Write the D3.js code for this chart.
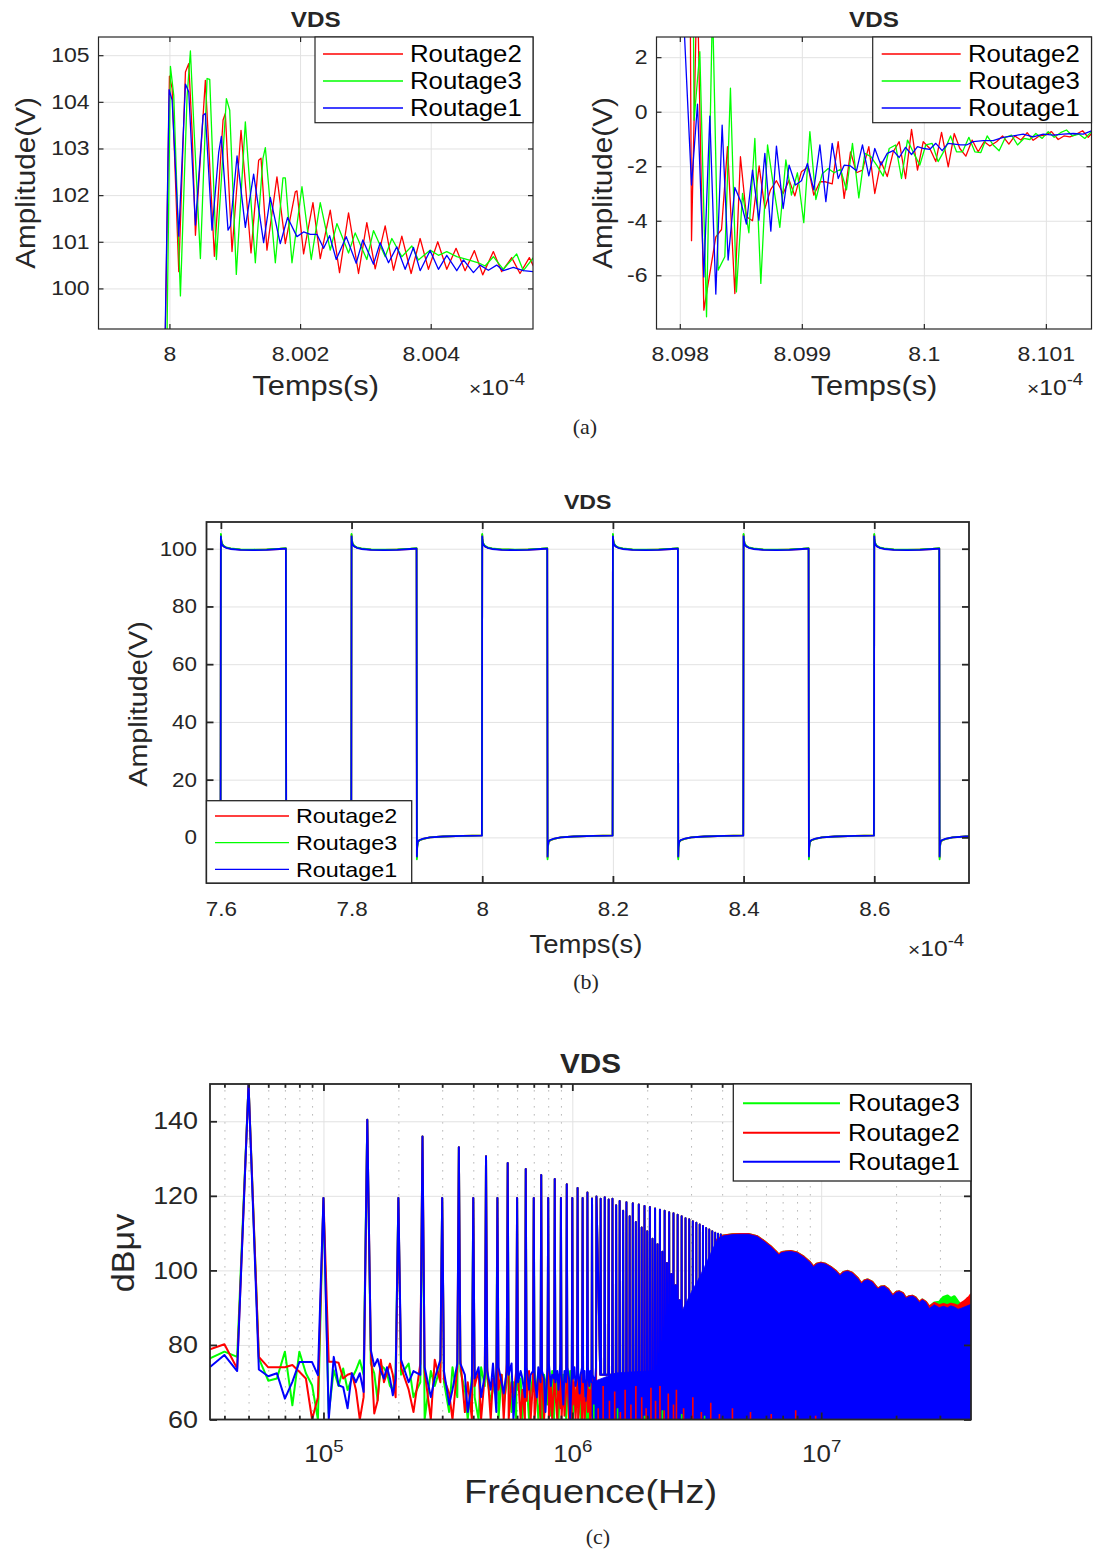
<!DOCTYPE html>
<html><head><meta charset="utf-8">
<script src="https://cdn.jsdelivr.net/npm/d3@7/dist/d3.min.js"></script>
<style>
html,body{margin:0;padding:0;background:#fff;}
svg{display:block;}
</style></head><body>
<svg id="fig" width="1097" height="1553" xmlns="http://www.w3.org/2000/svg"></svg>
<script>
// ======================= DATA =======================
const seriesOrderA = ["Routage2","Routage3","Routage1"];
const seriesOrderC = ["Routage3","Routage2","Routage1"];

// (a) left : time offset from 8e-4 s in ns, amplitude in V
const a1TickNs = [0, 200, 400];
const a1TickLabels = ["8", "8.002", "8.004"];
const a1YTicks = [100, 101, 102, 103, 104, 105];
const a1Red = [[-8,97.5],[0,104.55],[4.1,104.29],[14.3,100.36],[24.5,104.64],[29.6,104.82],[34.7,103.36],[39.8,101.14],[55.0,104.46],[68.8,100.69],[82.1,103.61],[85.6,103.75],[95.8,100.79],[109.6,103.39],[124.9,100.76],[136.6,102.75],[140.2,102.79],[149.3,100.82],[164.6,102.39],[177.4,100.96],[192.7,102.07],[195.2,102.09],[205.4,100.74],[219.7,101.84],[230.9,100.64],[246.2,101.68],[260.4,100.34],[274.2,101.62],[289.5,100.32],[302.2,101.41],[315.0,100.42],[330.3,101.34],[343.0,100.39],[355.8,101.12],[370.0,100.32],[383.8,101.07],[396.5,100.41],[410.8,101.0],[424.6,100.41],[438.8,100.86],[452.6,100.38],[466.9,100.81],[479.6,100.29],[495.9,100.79],[508.7,100.36],[524.0,100.66],[536.7,100.32],[551.0,100.66],[557.1,100.48]];
const a1Green = [[-5,97.5],[1.5,104.76],[6.6,104.14],[16.8,99.84],[27.0,104.11],[32.1,105.09],[37.2,103.54],[47.4,100.64],[57.6,104.5],[61.7,104.48],[71.9,100.62],[87.2,104.07],[92.3,103.82],[102.4,100.3],[116.2,103.57],[131.5,100.55],[143.2,102.79],[146.8,103.02],[162.1,100.55],[173.8,102.37],[177.4,102.37],[187.6,100.55],[202.9,102.18],[217.1,100.62],[230.9,101.84],[246.2,100.82],[256.4,101.39],[274.2,100.76],[284.4,101.19],[302.2,100.62],[312.4,101.24],[330.3,100.68],[340.5,101.07],[355.8,100.68],[371.1,100.91],[381.2,100.61],[399.1,100.82],[411.8,100.71],[424.6,100.79],[439.9,100.68],[455.2,100.62],[473.0,100.55],[483.2,100.48],[495.9,100.68],[511.2,100.41],[531.6,100.74],[541.8,100.38],[557.1,100.66]];
const a1Blue = [[-10,96],[-0.5,104.26],[4.1,104.04],[14.3,101.12],[24.5,104.38],[29.6,104.21],[39.8,101.36],[51.5,103.71],[55.0,103.75],[65.2,101.25],[75.4,102.91],[79.5,103.26],[89.7,101.25],[93.3,101.34],[103.5,102.84],[116.2,101.31],[128.9,102.45],[144.2,100.98],[154.4,101.95],[169.7,100.96],[180.9,101.52],[195.2,101.11],[205.4,101.21],[215.6,101.16],[225.8,101.16],[236.0,100.86],[245.2,101.13],[255.4,100.62],[270.6,101.11],[285.9,100.54],[296.1,101.04],[312.4,100.52],[322.6,100.98],[335.4,100.55],[348.1,100.89],[360.9,100.41],[373.6,100.88],[383.8,100.38],[399.1,100.81],[411.8,100.41],[424.6,100.71],[439.9,100.38],[450.1,100.61],[465.4,100.34],[475.5,100.5],[488.3,100.39],[501.0,100.5],[511.2,100.38],[526.5,100.45],[541.8,100.38],[557.1,100.36]];

// (a) right : time offset from 8.098e-4 s in ns
const a2TickNs = [0, 100, 200, 300];
const a2TickLabels = ["8.098", "8.099", "8.1", "8.101"];
const a2YTicks = [-6, -4, -2, 0, 2];
const a2Red = [[-3,100],[9.6,-4.73],[14.2,5],[19.7,-7.28],[29.5,-4.59],[34.2,-4.32],[39.1,-1.28],[45.1,-6.67],[49.7,-1.65],[54.6,-3.85],[59.6,-4.0],[65.0,-1.99],[69.7,-3.55],[74.3,-2.87],[79.2,-2.53],[84.7,-3.0],[89.6,-2.51],[94.3,-3.09],[99.7,-2.2],[105.2,-2.02],[109.8,-3.06],[114.8,-2.57],[119.4,-2.57],[124.9,-2.65],[129.8,-1.1],[134.7,-3.18],[139.9,-1.47],[144.8,-2.24],[149.7,-2.14],[154.9,-1.28],[159.8,-3.0],[164.8,-1.83],[170.0,-2.38],[174.9,-1.47],[179.8,-1.10],[185.0,-2.45],[189.9,-0.65],[194.8,-2.14],[199.5,-1.10],[204.9,-1.35],[209.8,-1.83],[214.5,-0.76],[220.0,-2.02],[224.9,-0.8],[229.5,-1.35],[234.4,-1.63],[239.6,-1.04],[244.5,-1.47],[249.5,-1.10],[254.1,-1.26],[259.6,-1.10],[264.5,-0.89],[269.7,-1.19],[274.6,-0.89],[279.5,-1.04],[284.7,-0.77],[289.6,-1.05],[294.5,-0.89],[299.7,-0.86],[304.6,-0.73],[310.1,-1.02],[314.8,-0.89],[319.7,-0.92],[325.1,-0.82],[330.1,-0.70],[334.7,-0.94],[337.4,-0.8]];
const a2Green = [[-3,100],[11.7,-0.31],[16.4,2.2],[21.9,-7.52],[26.8,4],[31.4,-5.81],[36.9,-5.32],[41.5,0.86],[46.4,-6.61],[51.4,-3.0],[56.6,-4.44],[61.5,-0.98],[66.4,-6.3],[71.9,-1.22],[77,-2.8],[82.0,-4.24],[86.9,-1.77],[91.5,-3.06],[96.4,-2.24],[101.6,-4.07],[106.6,-0.73],[111.5,-3.22],[116.7,-2.28],[121.6,-2.08],[126.5,-2.24],[131.7,-2.11],[136.6,-2.87],[141.5,-1.16],[146.7,-3.16],[151.6,-1.53],[156.6,-1.65],[161.7,-1.99],[166.7,-2.36],[171.6,-1.35],[176.8,-1.22],[181.7,-2.45],[186.6,-1.04],[191.8,-1.53],[196.7,-1.96],[201.6,-1.22],[206.8,-1.16],[211.7,-1.83],[216.7,-1.43],[221.9,-0.89],[226.8,-1.47],[231.7,-1.47],[236.9,-0.94],[241.8,-1.47],[246.7,-1.50],[251.9,-0.89],[256.8,-1.22],[261.7,-1.43],[266.9,-0.94],[271.9,-0.86],[276.8,-1.22],[282.0,-0.98],[286.9,-1.02],[291.8,-0.8],[297.0,-0.98],[301.9,-0.73],[306.8,-0.94],[312.0,-0.77],[316.9,-0.67],[321.9,-0.89],[327.0,-0.82],[331.9,-0.98],[337.4,-0.73]];
const a2Blue = [[-2,100],[0.5,6],[9.6,-2.69],[14.5,0.28],[19.7,-6.06],[24.6,-0.16],[29.5,-6.69],[34.7,-0.49],[39.6,-5.44],[45.1,-2.78],[50.0,-3.30],[54.6,-4.12],[59.6,-2.14],[64.8,-3.98],[69.7,-1.53],[74.6,-4.38],[79.2,-1.26],[84.7,-3.55],[89.6,-1.96],[94.8,-2.69],[99.7,-2.53],[104.6,-1.90],[109.8,-2.87],[114.8,-1.22],[119.7,-3.30],[124.9,-1.16],[129.8,-2.45],[134.7,-1.96],[139.9,-1.99],[144.8,-2.17],[149.7,-1.22],[154.9,-2.35],[159.8,-1.35],[164.8,-1.96],[170.0,-1.53],[174.9,-1.43],[179.8,-1.68],[185.0,-1.31],[189.9,-1.57],[194.8,-1.28],[200.0,-1.35],[204.9,-1.38],[209.8,-1.16],[215.0,-1.43],[219.9,-1.16],[224.9,-1.19],[230.1,-1.22],[235.0,-1.22],[240.4,-1.10],[248.6,-1.06],[256.8,-1.06],[265.0,-0.94],[273.2,-0.89],[281.4,-0.82],[289.6,-0.92],[297.8,-0.82],[306.0,-0.86],[314.2,-0.82],[322.4,-0.8],[330.6,-0.82],[337.4,-0.70]];

// (b) square wave (time in 1e-4 s)
const bTicks = [7.6, 7.8, 8.0, 8.2, 8.4, 8.6];
const bTickLabels = ["7.6", "7.8", "8", "8.2", "8.4", "8.6"];
const bYTicks = [0, 20, 40, 60, 80, 100];
const midStart = 7.578;
const midRise = [7.6, 7.8, 8.0, 8.2, 8.4, 8.6];
const midFall = [7.7, 7.9, 8.1, 8.3, 8.5, 8.7];
const midHighDt = [0, 0.0004, 0.0015, 0.004, 0.008, 0.015, 0.03, 0.05, 0.07, 0.09, 0.0995];
const midHighR2 = [104.8, 103.2, 101.8, 100.9, 100.4, 100.0, 99.7, 99.6, 99.7, 99.9, 100.1];
const midHighR3 = [105.1, 103.4, 101.9, 101.0, 100.5, 100.1, 99.8, 99.7, 99.8, 100.0, 100.2];
const midHighR1 = [104.3, 102.8, 101.5, 100.8, 100.3, 99.9, 99.6, 99.5, 99.6, 99.9, 100.0];
const midLowDt = [0, 0.0004, 0.0015, 0.004, 0.01, 0.02, 0.04, 0.07, 0.0995];
const midLowR2 = [-7.0, -3.5, -1.6, -1.0, -0.5, 0.0, 0.3, 0.5, 0.7];
const midLowR3 = [-7.6, -3.8, -1.7, -1.0, -0.5, 0.0, 0.3, 0.5, 0.7];
const midLowR1 = [-6.6, -3.2, -1.5, -0.9, -0.4, 0.0, 0.3, 0.5, 0.6];

// (c) spectrum
const cXTicks = [1e5, 1e6, 1e7];
const cXMinor = [4e4,5e4,6e4,7e4,8e4,9e4,2e5,3e5,4e5,5e5,6e5,7e5,8e5,9e5,2e6,3e6,4e6,5e6,6e6,7e6,8e6,9e6,2e7,3e7];
const cYTicks = [60, 80, 100, 120, 140];
const specLowKHz = [35,40,45,50,55,60,65,70,75,80,85,90,95,100,105,110,115,120,125,130,135,140,145,150,155,160,165,170,175,180,185,190,195,200];
const specLowR = [78.8,80.2,73.7,150,76.8,74,74,74,74.6,72.8,71,60,66,119.4,75.5,75.5,75.2,71,72,72.4,68,60,66,140.4,78.6,61.6,65,76,70,72.4,75,72,66,119.4];
const specLowG = [76.4,78.2,76.8,150,76.4,70.4,71,78.2,63.8,78.2,72.4,69.2,60,119.4,61.7,73.2,69,73.7,67.9,71,73.2,75.9,72,140.4,75,72.4,65.2,74.5,73.8,72.4,69,68,72.4,119.4];
const specLowB = [74.1,77.3,73,150,73.4,71.6,72.4,65.6,70.1,75.4,75.4,75.4,71.9,119.4,60,76.8,69.2,68.7,63,72.4,70,72.4,67.4,140.4,78.6,74.3,76.2,73,71,74,71,66.5,71,119.4];
// inter-harmonic noise, 4 readings per gap, harmonics 4..24 (x 50 kHz)
const specNoiseB = [76,70,73,72, 74,66,71,76, 73,64,68,75, 75,72,62,70, 71,74,66,72, 73,68,75,62, 74,70,67,73, 72,75,60,71, 70,73,71,66, 74,68,72,73, 71,66,74,70, 73,71,62,74, 75,69,72,71, 70,73,68,75, 72,64,73,70, 74,71,60,73, 71,74,69,72, 73,67,72,74, 70,73,65,71, 74,69,73,70, 72,71,68,74];
const specNoiseR = [74,68,62,75, 73,60,76,70, 71,67,60,74, 76,62,70,60, 69,73,60,72, 74,60,71,67, 68,72,60,75, 60,70,66,73, 72,60,68,60, 65,73,60,70, 60,68,72,60, 71,60,66,73, 60,69,60,70, 67,60,72,63, 60,70,61,68, 72,60,66,60, 64,70,60,69, 60,66,71,60, 69,60,64,70, 62,68,60,66, 60,71,63,60];
const specNoiseG = [72,75,66,70, 60,73,69,74, 70,62,74,66, 73,68,60,72, 66,60,74,69, 71,65,68,73, 60,72,64,70, 74,62,70,60, 68,71,60,73, 70,60,67,72, 73,68,60,66, 60,72,70,64, 69,61,73,60, 72,66,60,70, 64,72,67,60, 70,60,73,66, 60,68,62,71, 72,63,60,69, 66,70,61,60, 60,64,70,62, 68,60,66,71];
// harmonic peaks (n x 50 kHz): odd n = 1..79, even n = 2..54
const specOddPeaks = [150,140.4,135.9,133.0,130.6,128.8,127.2,125.6,124.5,123.1,122.1,120.9,119.8,119.6,119.2,118.6,118.3,118.0,117.7,117.3,117.0,116.6,116.3,116.0,115.6,115.3,114.9,114.5,114.0,113.7,113.2,112.8,112.3,111.9,111.4,111.0,110.5,110.1,109.8,109.6];
const specEvenPeaks = [119.4,119.4,119.4,119.4,119.4,119.4,119.4,119.4,119.4,119.4,119.4,119.3,119.2,119.0,117.5,116.0,114.5,113.0,111.5,110.5,108.5,107.0,105.0,102.0,99.0,96.0,92.0];
const specBandLevel = 72;
// dense (filled) part of the spectrum: [MHz, dB]
const specBandTop = [[1.2,70],[1.5,72.5],[2.0,73],[2.5,73.5],[2.72,74],[2.75,89],[2.85,91],[3.0,94],[3.2,97.4],[3.4,101],[3.6,104.6],[3.82,108.2],[4.06,109.3],[4.4,109.6],[4.75,109.7],[5.1,109.7],[5.53,109.1],[5.89,107.8],[6.26,106.4],[6.56,105.1],[6.77,104.1],[6.9,104.7],[7.2,105.0],[7.54,105.1],[8.0,104.7],[8.5,103.6],[9.0,102.2],[9.31,100.9],[9.6,101.7],[9.96,102.0],[10.4,101.7],[10.9,100.9],[11.4,99.9],[11.9,98.6],[12.3,99.5],[12.75,99.8],[13.3,99.3],[14.0,97.9],[14.5,96.4],[14.9,97.2],[15.35,97.5],[16.0,96.9],[16.9,95.0],[17.4,95.6],[17.9,95.7],[18.6,94.9],[19.4,93.2],[20.0,94.1],[20.6,94.3],[21.3,93.8],[21.9,92.5],[22.6,93.0],[23.3,93.1],[24.0,92.6],[24.8,91.4],[25.5,92.1],[26.3,91.5],[27.2,89.8],[28.5,90.8],[29.8,90.0],[31.0,90.4],[32.2,90.0],[33.2,90.5],[34.3,90.2],[35.5,89.6],[36.4,89.8],[38.0,90.3],[40.0,90.9]];
const specTopGreenHF = [[27.2,90.2],[28.5,91.3],[29.8,91.5],[31.0,92.8],[32.2,93.2],[33.2,92.5],[34.3,93.0],[35.5,91.6],[36.4,90.5],[38.0,90.8],[40.0,91.3]];
const specTopRedHF = [[27.2,90.2],[28.5,91.2],[29.8,90.6],[31.0,90.9],[32.2,90.6],[33.2,91.0],[34.3,90.8],[35.5,90.4],[36.4,91.1],[37.5,91.6],[38.5,92.3],[39.3,92.8],[40.0,93.5]];
const specRedSpikes = [[1.12,66],[1.18,68],[1.27,63],[1.33,69],[1.41,65],[1.48,67.5],[1.56,62],[1.63,68],[1.72,64],[1.8,69],[1.9,66],[1.98,63],[2.07,68.5],[2.16,65],[2.25,69],[2.34,62.5],[2.43,67],[2.55,64],[2.62,68],[2.8,63],[3.05,66],[3.3,62],[3.6,64.5],[3.9,61.5],[4.4,63],[5.2,62],[6.3,61.5],[7.9,62.5],[9.5,61]];
const specGreenSpikes = [[1.22,64],[1.52,63],[1.95,61],[2.3,62.5],[2.75,61.5],[3.4,61]];

// ======================= DRAW =======================
const FONT = '"Liberation Sans", Arial, Helvetica, sans-serif';
const SERIF = '"Liberation Serif", "Times New Roman", serif';
const AX = '#262626', GRID = '#e2e2e2';
const COL = {Routage1:'#0000ff', Routage2:'#ff0000', Routage3:'#00ff00'};
const svg = d3.select('#fig');
svg.append('rect').attr('width',1097).attr('height',1553).attr('fill','#fff');
const defs = svg.append('defs');

function stretch(sel, k){
  sel.each(function(){
    const L = this.getComputedTextLength();
    if (L > 0){ this.setAttribute('textLength', (L*k).toFixed(2)); this.setAttribute('lengthAdjust','spacingAndGlyphs'); }
  });
}
function txt(x, y, s, fs, o){
  o = o || {};
  const t = svg.append('text').attr('x',x).attr('y',y).attr('font-family',o.family||FONT)
    .attr('font-size',fs).attr('fill',AX).attr('text-anchor',o.anchor||'middle')
    .attr('font-weight',o.bold?'bold':'normal').text(s);
  if (o.rot) t.attr('x',0).attr('y',0).attr('transform',`translate(${x},${y}) rotate(-90)`);
  if (o.k) stretch(t, o.k);
  return t;
}

function makePanel(c){
  const g = svg.append('g');
  defs.append('clipPath').attr('id',c.id).append('rect')
    .attr('x',c.x0).attr('y',c.y0).attr('width',c.x1-c.x0).attr('height',c.y1-c.y0);
  const gridG = g.append('g');
  const H = c.y1-c.y0, W = c.x1-c.x0;
  if (c.xMinor){
    gridG.append('g').attr('transform',`translate(0,${c.y1})`)
      .call(d3.axisBottom(c.x).tickValues(c.xMinor).tickSize(-H).tickFormat(''))
      .call(s=>{s.select('.domain').remove(); s.selectAll('line').attr('stroke','#a9a9a9').attr('stroke-dasharray','1.3,6.7');});
  }
  gridG.append('g').attr('transform',`translate(0,${c.y1})`)
    .call(d3.axisBottom(c.x).tickValues(c.xTicks).tickSize(-H).tickFormat(''))
    .call(s=>{s.select('.domain').remove(); s.selectAll('line').attr('stroke',GRID);});
  gridG.append('g').attr('transform',`translate(${c.x0},0)`)
    .call(d3.axisLeft(c.y).tickValues(c.yTicks).tickSize(-W).tickFormat(''))
    .call(s=>{s.select('.domain').remove(); s.selectAll('line').attr('stroke',GRID);});
  const plot = g.append('g').attr('clip-path',`url(#${c.id})`);
  const top = g.append('g');
  return {g, plot, top, c};
}

function finishPanel(P){
  const c = P.c, t = P.top;
  const st = s => { s.select('.domain').remove(); s.selectAll('line').attr('stroke',AX).attr('stroke-width',c.lw);
    s.attr('font-family',FONT).attr('font-size',c.fs).attr('color',AX); };
  const xPad = c.xBase - c.y1 - 0.71*c.fs;
  const xb = t.append('g').attr('transform',`translate(0,${c.y1})`)
    .call(d3.axisBottom(c.x).tickValues(c.xTicks).tickFormat((d,i)=>c.xLabels ? c.xLabels[i] : '').tickSizeInner(-c.tl).tickSizeOuter(0).tickPadding(xPad)).call(st);
  t.append('g').attr('transform',`translate(0,${c.y0})`)
    .call(d3.axisTop(c.x).tickValues(c.xTicks).tickFormat('').tickSizeInner(-c.tl).tickSizeOuter(0)).call(st);
  if (c.xMinor){
    t.append('g').attr('transform',`translate(0,${c.y1})`)
      .call(d3.axisBottom(c.x).tickValues(c.xMinor).tickFormat('').tickSizeInner(-c.tl*0.55).tickSizeOuter(0)).call(st);
    t.append('g').attr('transform',`translate(0,${c.y0})`)
      .call(d3.axisTop(c.x).tickValues(c.xMinor).tickFormat('').tickSizeInner(-c.tl*0.55).tickSizeOuter(0)).call(st);
  }
  const yl = t.append('g').attr('transform',`translate(${c.x0},0)`)
    .call(d3.axisLeft(c.y).tickValues(c.yTicks).tickFormat((d,i)=>c.yLabels[i]).tickSizeInner(-c.tl).tickSizeOuter(0).tickPadding(c.yPad)).call(st);
  t.append('g').attr('transform',`translate(${c.x1},0)`)
    .call(d3.axisRight(c.y).tickValues(c.yTicks).tickFormat('').tickSizeInner(-c.tl).tickSizeOuter(0)).call(st);
  t.append('rect').attr('x',c.x0).attr('y',c.y0).attr('width',c.x1-c.x0).attr('height',c.y1-c.y0)
    .attr('fill','none').attr('stroke',AX).attr('stroke-width',c.lw);
  if (c.logLabels){
    xb.selectAll('.tick text').each(function(d){
      const e = Math.round(Math.log10(d)); const s = d3.select(this); s.text(null);
      s.append('tspan').text('10');
      s.append('tspan').attr('dy', -c.fs*0.42).attr('font-size', c.fs*0.72).text(e);
    });
    stretch(xb.selectAll('.tick text'), 1.08);
  } else {
    stretch(xb.selectAll('text'), c.k);
  }
  stretch(yl.selectAll('text'), c.k);
}

function legend(L){
  const g = svg.append('g');
  g.append('rect').attr('x',L.x0).attr('y',L.y0).attr('width',L.x1-L.x0).attr('height',L.y1-L.y0)
    .attr('fill','#fff').attr('stroke',AX).attr('stroke-width',L.bw);
  L.items.forEach((name,i)=>{
    const y = L.rows[i];
    g.append('line').attr('x1',L.lx0).attr('x2',L.lx1).attr('y1',y).attr('y2',y).attr('stroke',COL[name]).attr('stroke-width',L.lw);
    const t = g.append('text').attr('x',L.tx).attr('y',y).attr('dy','0.35em').attr('font-family',FONT)
      .attr('font-size',L.fs).attr('fill','#000').text(name);
    stretch(t, L.k);
  });
}

function expo(x, y, fs){
  const t = svg.append('text').attr('x',x).attr('y',y).attr('font-family',FONT).attr('fill',AX).attr('font-size',fs);
  t.append('tspan').attr('font-size',fs*0.85).text('\u00d7');
  t.append('tspan').text('10');
  t.append('tspan').attr('dy',-fs*0.45).attr('font-size',fs*0.75).text('-4');
  stretch(t, 1.12);
}

// ---------- (a) left ----------
{
  const c = {id:'cA1', x0:98.5, x1:533, y0:37, y1:329, lw:1.2, tl:5, fs:20, k:1.15, xBase:361, yPad:9,
    xTicks:a1TickNs, xLabels:a1TickLabels, yTicks:a1YTicks, yLabels:a1YTicks.map(String)};
  c.x = d3.scaleLinear().domain([-108.6, 556.6]).range([c.x0, c.x1]);
  c.y = d3.scaleLinear().domain([99.13, 105.39]).range([c.y1, c.y0]);
  const P = makePanel(c);
  const line = d3.line().x(d=>c.x(d[0])).y(d=>c.y(d[1]));
  const data = {Routage2:a1Red, Routage3:a1Green, Routage1:a1Blue};
  seriesOrderA.forEach(n=>P.plot.append('path').attr('d',line(data[n])).attr('fill','none')
    .attr('stroke',COL[n]).attr('stroke-width',1.3).attr('stroke-linejoin','round'));
  finishPanel(P);
  legend({x0:315,x1:533,y0:37,y1:122.7,bw:1.2,lx0:323,lx1:403,tx:410,rows:[54,81,108],fs:23,k:1.12,lw:1.3,items:seriesOrderA});
  txt(315.7, 27, 'VDS', 22, {bold:true, k:1.1});
  txt(315.7, 395, 'Temps(s)', 28, {k:1.1});
  txt(35, 183, 'Amplitude(V)', 27, {rot:true, k:1.1});
  expo(469, 395, 22);
}
// ---------- (a) right ----------
{
  const c = {id:'cA2', x0:656.5, x1:1091.5, y0:37, y1:329, lw:1.2, tl:5, fs:20, k:1.15, xBase:361, yPad:9,
    xTicks:a2TickNs, xLabels:a2TickLabels, yTicks:a2YTicks, yLabels:a2YTicks.map(String)};
  c.x = d3.scaleLinear().domain([-19.1, 337.4]).range([c.x0, c.x1]);
  c.y = d3.scaleLinear().domain([-7.97, 2.74]).range([c.y1, c.y0]);
  const P = makePanel(c);
  const line = d3.line().x(d=>c.x(d[0])).y(d=>c.y(d[1]));
  const data = {Routage2:a2Red, Routage3:a2Green, Routage1:a2Blue};
  seriesOrderA.forEach(n=>P.plot.append('path').attr('d',line(data[n])).attr('fill','none')
    .attr('stroke',COL[n]).attr('stroke-width',1.3).attr('stroke-linejoin','round'));
  finishPanel(P);
  legend({x0:872.7,x1:1091.5,y0:37,y1:122.7,bw:1.2,lx0:881.7,lx1:960.7,tx:968,rows:[54,81,108],fs:23,k:1.12,lw:1.3,items:seriesOrderA});
  txt(874, 27, 'VDS', 22, {bold:true, k:1.1});
  txt(874, 395, 'Temps(s)', 28, {k:1.1});
  txt(612, 183, 'Amplitude(V)', 27, {rot:true, k:1.1});
  expo(1027, 395, 22);
}
txt(585, 434, '(a)', 22, {family:SERIF});

// ---------- (b) ----------
function buildMid(high, low){
  const pts = [[midStart, low[low.length-1]]];
  midRise.forEach((r,i)=>{
    pts.push([r-0.0005, low[low.length-1]]);
    midHighDt.forEach((dt,j)=>pts.push([r+dt, high[j]]));
    midLowDt.forEach((dt,j)=>pts.push([midFall[i]+dt, low[j]]));
  });
  return pts;
}
{
  const c = {id:'cB', x0:206.5, x1:969, y0:522, y1:883, lw:1.8, tl:7, fs:20, k:1.12, xBase:916, yPad:9.5,
    xTicks:bTicks, xLabels:bTickLabels, yTicks:bYTicks, yLabels:bYTicks.map(String)};
  c.x = d3.scaleLinear().domain([7.578, 8.745]).range([c.x0, c.x1]);
  c.y = d3.scaleLinear().domain([-15.8, 109.25]).range([c.y1, c.y0]);
  const P = makePanel(c);
  const line = d3.line().x(d=>c.x(d[0])).y(d=>c.y(d[1]));
  const data = {Routage2:buildMid(midHighR2, midLowR2), Routage3:buildMid(midHighR3, midLowR3), Routage1:buildMid(midHighR1, midLowR1)};
  seriesOrderA.forEach(n=>P.plot.append('path').attr('d',line(data[n])).attr('fill','none')
    .attr('stroke',COL[n]).attr('stroke-width',1.8).attr('stroke-linejoin','round'));
  finishPanel(P);
  legend({x0:206.5,x1:411.7,y0:800.7,y1:883,bw:1.3,lx0:215,lx1:289,tx:296,rows:[816,842.7,869.3],fs:21,k:1.11,lw:1.3,items:seriesOrderA});
  txt(587.7, 509, 'VDS', 21, {bold:true, k:1.1});
  txt(586, 953, 'Temps(s)', 25, {k:1.1});
  txt(147, 704, 'Amplitude(V)', 26, {rot:true, k:1.1});
  expo(908, 956, 22);
}
txt(586, 989, '(b)', 22, {family:SERIF});

// ---------- (c) ----------
function peakAt(n){
  if (n % 2 === 1){ const i=(n-1)/2; return i < specOddPeaks.length ? specOddPeaks[i] : null; }
  const i = n/2 - 1; return i < specEvenPeaks.length ? specEvenPeaks[i] : null;
}
function specSeries(low, noise){
  const pts = specLowKHz.map((k,i)=>[k*1e3, low[i]]);
  for (let n=4; n<=24; n++){
    const q=(n-4)*4, b=n*50e3;
    pts.push([b+5e3,noise[q]],[b+20e3,noise[q+1]],[b+30e3,noise[q+2]],[b+45e3,noise[q+3]],[(n+1)*50e3, peakAt(n+1)]);
  }
  for (let n=26; n<=79; n++){
    const p = peakAt(n); if (p === null) continue;
    const b = n*50e3;
    pts.push([b-5e3, specBandLevel],[b, p],[b+5e3, specBandLevel]);
  }
  return pts;
}
{
  const c = {id:'cC', x0:210, x1:971, y0:1084, y1:1419.5, lw:1.8, tl:7, fs:24, k:1.12, xBase:1462, yPad:12,
    xTicks:cXTicks, xMinor:cXMinor, yTicks:cYTicks, yLabels:cYTicks.map(String), logLabels:true};
  c.x = d3.scaleLog().domain([35e3, 4e7]).range([c.x0, c.x1]);
  c.y = d3.scaleLinear().domain([60, 150]).range([c.y1, c.y0]);
  const P = makePanel(c);
  const line = d3.line().x(d=>c.x(d[0])).y(d=>c.y(d[1]));
  const area = d3.area().x(d=>c.x(d[0]*1e6)).y0(c.y(60)).y1(d=>c.y(d[1]));
  const lines = {Routage3:specSeries(specLowG, specNoiseG), Routage2:specSeries(specLowR, specNoiseR), Routage1:specSeries(specLowB, specNoiseB)};
  const domeB = specBandTop.filter(d=>d[0]>=3.82);
  const rimG = domeB.filter(d=>d[0]<27.2).concat(specTopGreenHF);
  const rimR = domeB.filter(d=>d[0]<27.2).concat(specTopRedHF);
  const rims = {Routage3:rimG, Routage2:rimR};
  seriesOrderC.forEach(n=>{
    P.plot.append('path').attr('d',line(lines[n])).attr('fill','none')
      .attr('stroke',COL[n]).attr('stroke-width',2).attr('stroke-linejoin','round');
    if (rims[n]){
      P.plot.append('path').attr('d',area(rims[n])).attr('fill',COL[n])
        .attr('stroke',COL[n]).attr('stroke-width',2.6).attr('stroke-linejoin','round');
    } else {
      P.plot.append('path').attr('d',area(specBandTop)).attr('fill',COL[n]).attr('stroke',COL[n]).attr('stroke-width',0.8);
    }
  });
  const vline = (arr, col) => P.plot.append('g').selectAll('line').data(arr).join('line')
    .attr('x1',d=>c.x(d[0]*1e6)).attr('x2',d=>c.x(d[0]*1e6)).attr('y1',c.y(60)).attr('y2',d=>c.y(d[1]))
    .attr('stroke',col).attr('stroke-width',1.6);
  vline(specRedSpikes, COL.Routage2);
  vline(specGreenSpikes, COL.Routage3);
  finishPanel(P);
  legend({x0:733.3,x1:971,y0:1084,y1:1181,bw:1.3,lx0:743,lx1:840,tx:848,rows:[1103.3,1132.7,1161.7],fs:23,k:1.12,lw:2,items:seriesOrderC});
  txt(590.5, 1073, 'VDS', 27, {bold:true, k:1.1});
  txt(590.5, 1503, 'Fréquence(Hz)', 33, {k:1.15});
  txt(134, 1253, 'dBμv', 31, {rot:true, k:1.1});
}
txt(598, 1544, '(c)', 22, {family:SERIF});
</script>
</body></html>
